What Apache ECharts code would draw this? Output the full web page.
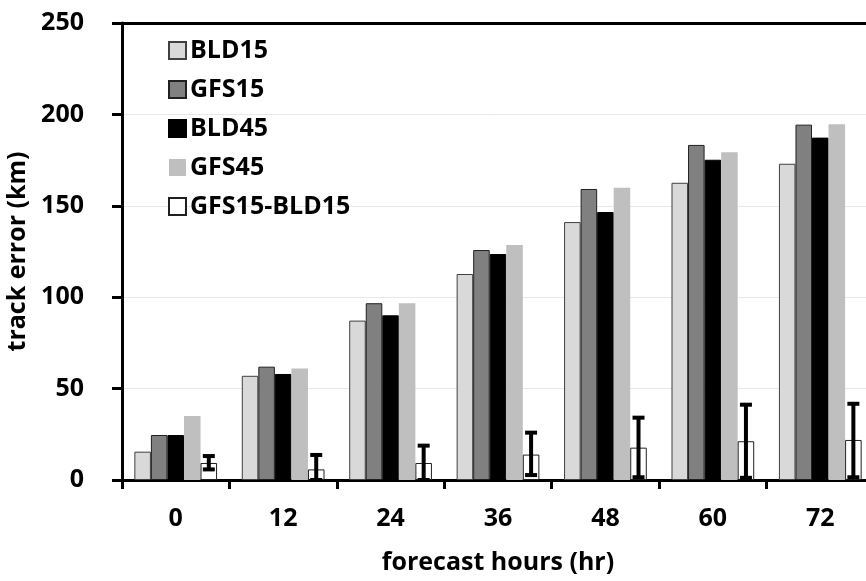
<!DOCTYPE html>
<html><head><meta charset="utf-8">
<script src="https://cdn.jsdelivr.net/npm/echarts@6/dist/echarts.min.js"></script>
<style>html,body{margin:0;padding:0;background:#fff}#c{width:866px;height:581px}</style>
</head><body><div id="c"></div>
<script>
var categories = ['0','12','24','36','48','60','72'];
var bld15 = [15.5, 57, 87.2, 112.7, 141.1, 162.6, 173];
var gfs15 = [24.6, 62, 96.7, 125.8, 159.2, 183.3, 194.4];
var bld45 = [24.6, 58, 90.1, 123.6, 146.6, 175.2, 187.3];
var gfs45 = [35, 61, 96.7, 128.6, 159.9, 179.3, 194.6];
var diff = [9.3, 5.8, 9.3, 13.9, 17.7, 21.2, 21.9];
var errLow = [5.8, 0, 0, 2.7, 1.5, 1.2, 1.5];
var errHigh = [13.1, 13.7, 18.8, 25.9, 34.1, 41.2, 41.7];
var yTicks = [0, 50, 100, 150, 200, 250];

var FONT = 'Open Sans';
var GAP = 0.23;
var chart = echarts.init(document.getElementById('c'));
var errData = categories.map(function(c, i){ return [i, errLow[i], errHigh[i]]; });
chart.setOption({
  animation: false,
  grid: {left: 122, top: 23, right: -8, bottom: 101, containLabel: false, outerBoundsMode: 'none'},
  legend: {
    orient: 'vertical', left: 163, top: 33, itemGap: 14, itemWidth: 17, itemHeight: 17,
    icon: 'rect',
    textStyle: {fontFamily: FONT, fontWeight: 'bold', fontSize: 25, color: '#000', padding: [0,0,0,-1]},
    data: ['BLD15','GFS15','BLD45','GFS45','GFS15-BLD15']
  },
  xAxis: [{
    type: 'category', data: categories,
    axisLine: {lineStyle: {color: '#000', width: 3}},
    axisTick: {show: true, length: 9, lineStyle: {color: '#000', width: 3}},
    axisLabel: {color: '#000', fontFamily: FONT, fontWeight: 'bold', fontSize: 25, margin: 26},
    name: 'forecast hours (hr)', nameLocation: 'middle', nameGap: 70,
    nameTextStyle: {color: '#000', fontFamily: FONT, fontWeight: 'bold', fontSize: 25}
  },{
    type: 'category', data: categories, position: 'top',
    axisLine: {lineStyle: {color: '#000', width: 3}},
    axisTick: {show: false}, axisLabel: {show: false}
  }],
  yAxis: {
    type: 'value', min: 0, max: 250, interval: 50,
    axisLine: {show: true, lineStyle: {color: '#000', width: 3}},
    axisTick: {show: true, length: 10, lineStyle: {color: '#000', width: 3}},
    axisLabel: {color: '#000', fontFamily: FONT, fontWeight: 'bold', fontSize: 25, margin: 38},
    splitLine: {lineStyle: {color: '#e8e8e8', width: 1}},
    name: 'track error (km)', nameLocation: 'middle', nameGap: 86,
    nameTextStyle: {color: '#000', fontFamily: FONT, fontWeight: 'bold', fontSize: 25}
  },
  series: [
    {name: 'BLD15', type: 'bar', data: bld15, barGap: '0%', barCategoryGap: (GAP*100)+'%',
     itemStyle: {color: '#d9d9d9', borderColor: '#404040', borderWidth: 1}},
    {name: 'GFS15', type: 'bar', data: gfs15, itemStyle: {color: '#808080', borderColor: '#202020', borderWidth: 1}},
    {name: 'BLD45', type: 'bar', data: bld45, itemStyle: {color: '#000000', borderColor: '#000', borderWidth: 1}},
    {name: 'GFS45', type: 'bar', data: gfs45, itemStyle: {color: '#bfbfbf'}},
    {name: 'GFS15-BLD15', type: 'bar', data: diff, itemStyle: {color: '#ffffff', borderColor: '#202020', borderWidth: 1}},
    {name: 'err', type: 'custom', data: errData, z: 10,
     renderItem: function(params, api){
       var i = api.value(0);
       var band = api.size([1, 0])[0];
       var bw = band * (1 - GAP) / 5;
       var cx = api.coord([i, 0])[0] + 2 * bw;
       var yl = api.coord([i, api.value(1)])[1];
       var yh = api.coord([i, api.value(2)])[1];
       var cap = 6;
       var st = {stroke: '#000', lineWidth: 4};
       return {type: 'group', children: [
         {type: 'line', shape: {x1: cx, y1: yl, x2: cx, y2: yh}, style: st},
         {type: 'line', shape: {x1: cx-cap, y1: yh, x2: cx+cap, y2: yh}, style: st},
         {type: 'line', shape: {x1: cx-cap, y1: yl, x2: cx+cap, y2: yl}, style: st}
       ]};
     },
     encode: {x: 0, y: [1, 2]}
    }
  ]
});
</script></body></html>
